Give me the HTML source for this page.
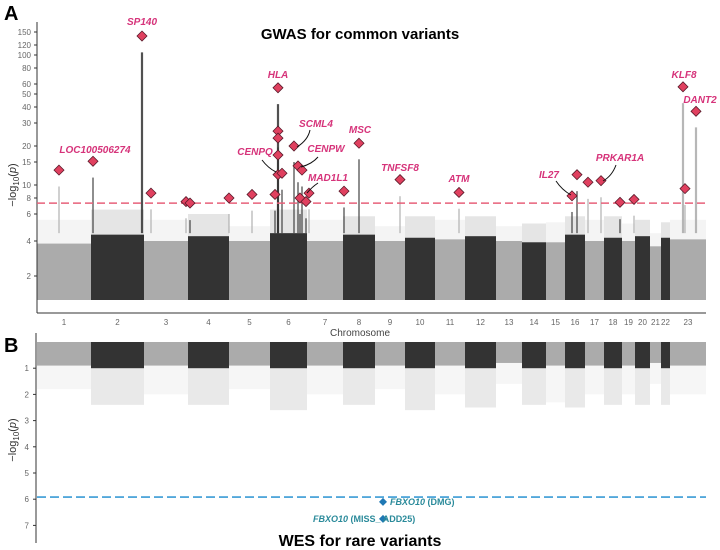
<!DOCTYPE html>
<html><head><meta charset="utf-8">
<style>
html,body{margin:0;padding:0;background:#fff;}
svg{display:block;font-family:"Liberation Sans",Arial,sans-serif;}
</style></head>
<body>
<svg id="chart" width="720" height="550" viewBox="0 0 720 550" xmlns="http://www.w3.org/2000/svg">
  <text x="4" y="20" font-size="20" font-weight="bold">A</text>
  <text x="360" y="39" font-size="15" font-weight="bold" text-anchor="middle">GWAS for common variants</text>
  <text transform="translate(16,185) rotate(-90)" font-size="11" fill="#333" text-anchor="middle">−log<tspan font-size="8" dy="3">10</tspan><tspan dy="-3">(</tspan><tspan font-style="italic">p</tspan>)</text>
  <text x="360" y="336" font-size="10" fill="#444" text-anchor="middle">Chromosome</text>
  <text x="4" y="352" font-size="20" font-weight="bold">B</text>
  <text transform="translate(16,440) rotate(-90)" font-size="11" fill="#333" text-anchor="middle">−log<tspan font-size="8" dy="3">10</tspan><tspan dy="-3">(</tspan><tspan font-style="italic">p</tspan>)</text>
  <text x="360" y="546" font-size="16" font-weight="bold" text-anchor="middle">WES for rare variants</text>
  <g id="gA"></g>
  <g id="gB"></g>
</svg>
<script>
// ---- data ----
const chromNames = ["1","2","3","4","5","6","7","8","9","10","11","12","13","14","15","16","17","18","19","20","21","22","23"];
const chromEdges = [0,54,107,151,192,233,270,306,338,368,398,428,459,485,509,528,548,567,585,598,613,624,633,669];
const gwasTop = [3.8,4.4,4.0,4.3,4.0,4.5,4.0,4.4,4.0,4.2,4.1,4.3,4.0,3.9,3.9,4.4,4.0,4.2,4.0,4.3,3.6,4.2,4.1];
const gwasScatterTop = [5.5,6.5,5.5,6.0,5.0,6.5,5.5,5.8,5.0,5.8,5.5,5.8,5.0,5.2,5.3,5.8,5.5,5.8,5.2,5.5,4.5,5.3,5.5];
const wesTop = [0.9,1.0,0.9,1.0,0.9,1.0,0.9,1.0,0.9,1.0,0.9,1.0,0.8,1.0,0.9,1.0,0.9,1.0,0.9,1.0,0.8,1.0,0.9];
const wesScatterTop = [1.8,2.4,2.0,2.4,1.8,2.6,2.0,2.4,1.8,2.6,2.0,2.5,1.6,2.4,2.3,2.5,2.0,2.4,2.0,2.4,1.6,2.4,2.0];
const hitPos = [22,56,105,114,149,153,192,215,238,241,241,241,241,241,245,257,261,265,263,269,272,307,322,363,422,535,540,551,564,583,597,646,648,659];
const hitVal = [13,15.2,140,8.7,7.5,7.3,8,8.5,8.5,56,26,23,17,12,12.3,20,14,13,8,7.5,8.7,9,21,11,8.8,8.3,12,10.5,10.8,7.4,7.8,57,9.4,37];
const gwasThreshold = 7.3;
const gwasTickVals = [2,4,6,8,10,15,20,30,40,50,60,80,100,120,150];
const wesTickVals = [1,2,3,4,5,6,7];
const wesThreshold = 5.92;
const wesHitPos = [346,346];
const wesHitVal = [6.1,6.75];
// ---- scales ----
const X0 = 37;
function x(u){ return X0 + u; }
const yKnotV = [1.3,2,4,6,8,10,15,20,30,40,50,60,80,100,120,150];
const yKnotP = [300,276,241,214,198,185,162,146,123,107,94,84,68,55,45,32];
function yA(v){
  const lv = Math.log(v);
  for(let i=0;i<yKnotV.length-1;i++){
    const a=Math.log(yKnotV[i]), b=Math.log(yKnotV[i+1]);
    if(lv<=b || i===yKnotV.length-2){
      return yKnotP[i] + (lv-a)/(b-a)*(yKnotP[i+1]-yKnotP[i]);
    }
  }
}
function yB(v){ return 342 + v*26.2; }
const NS="http://www.w3.org/2000/svg";
function mk(parent,tag,attrs){ const e=document.createElementNS(NS,tag); for(const k in attrs) e.setAttribute(k,attrs[k]); parent.appendChild(e); return e; }
const gA=document.getElementById('gA'), gB=document.getElementById('gB');
function chromColor(i){ return i%2===0 ? "#ababab" : "#333333"; }

// ---- Panel A ----
for(let i=0;i<chromNames.length;i++){
  const x1=x(chromEdges[i]), x2=x(chromEdges[i+1]);
  let r=mk(gA,'rect',{x:x1,y:yA(gwasScatterTop[i]),width:x2-x1,height:300-yA(gwasScatterTop[i]),fill:chromColor(i),opacity:0.13});
  
  
  r=mk(gA,'rect',{x:x1,y:yA(gwasTop[i]),width:x2-x1,height:300-yA(gwasTop[i]),fill:chromColor(i)});
  
  
  const t=mk(gA,'text',{x:(x1+x2)/2,y:325,'font-size':8,fill:'#666','text-anchor':'middle'});
  t.textContent=chromNames[i];
  
  
}
for(let i=0;i<hitPos.length;i++){
  let ci=0; while(ci<chromEdges.length-2 && hitPos[i]>=chromEdges[ci+1]) ci++;
  const w = hitVal[i]>30 ? 2.2 : 1.3;
  const l=mk(gA,'line',{x1:x(hitPos[i]),x2:x(hitPos[i]),y1:yA(hitVal[i]*0.75),y2:yA(4.5),stroke:chromColor(ci),'stroke-width':w,opacity:0.85});
  
  
}
let ax=mk(gA,'line',{x1:37,x2:37,y1:22,y2:313,stroke:'#333','stroke-width':1});
 
ax=mk(gA,'line',{x1:37,x2:706,y1:313,y2:313,stroke:'#333','stroke-width':1});
 
for(const v of gwasTickVals){
  const tk=mk(gA,'line',{x1:34,x2:37,y1:yA(v),y2:yA(v),stroke:'#333'});
   
  const t=mk(gA,'text',{x:31,y:yA(v)+3,'font-size':8,fill:'#666','text-anchor':'end'});
  t.textContent=v;
   
}
let th=mk(gA,'line',{x1:37,x2:706,y1:yA(gwasThreshold),y2:yA(gwasThreshold),stroke:'#e8607a','stroke-width':1.5,'stroke-dasharray':'8,4'});
 
for(let i=0;i<hitPos.length;i++){
  const cx=x(hitPos[i]), cy=yA(hitVal[i]);
  const d=mk(gA,'polygon',{points:`${cx},${cy-5} ${cx+5},${cy} ${cx},${cy+5} ${cx-5},${cy}`,fill:'#e0405f',stroke:'#5a1a2a','stroke-width':0.8});
  
  
}
const labs=[["SP140",142,25],["LOC100506274",95,153],["HLA",278,78],["SCML4",316,127],["CENPQ",255,155],["CENPW",326,152],["MAD1L1",328,181],["MSC",360,133],["TNFSF8",400,171],["ATM",459,182],["IL27",549,178],["PRKAR1A",620,161],["KLF8",684,78],["DANT2",700,103]];
for(const L of labs){
  const t=mk(gA,'text',{x:L[1],y:L[2],'font-size':10,'font-weight':'bold','font-style':'italic',fill:'#d6337a','text-anchor':'middle'});
  t.textContent=L[0];
  
  
}
const leaders=["M262,160 Q268,168 276,172","M310,130 Q308,140 297,147","M318,157 Q312,164 301,167","M318,183 Q312,187 307,193","M556,181 Q562,190 571,195","M616,165 Q612,176 603,181"];
for(const p of leaders){
  const l=mk(gA,'path',{d:p,fill:'none',stroke:'#111','stroke-width':1});
   
}

// ---- Panel B ----
for(let i=0;i<chromNames.length;i++){
  const x1=x(chromEdges[i]), x2=x(chromEdges[i+1]);
  let r=mk(gB,'rect',{x:x1,y:yB(0),width:x2-x1,height:yB(wesScatterTop[i])-yB(0),fill:chromColor(i),opacity:0.11});
  
  
  r=mk(gB,'rect',{x:x1,y:yB(0),width:x2-x1,height:yB(wesTop[i])-yB(0),fill:chromColor(i)});
  
  
}
ax=mk(gB,'line',{x1:36,x2:36,y1:333,y2:543,stroke:'#333'});
 
for(const v of wesTickVals){
  const tk=mk(gB,'line',{x1:33,x2:36,y1:yB(v),y2:yB(v),stroke:'#333'});
   
  const t=mk(gB,'text',{x:29,y:yB(v)+3,'font-size':8,fill:'#666','text-anchor':'end'});
  t.textContent=v;
   
}
th=mk(gB,'line',{x1:37,x2:706,y1:yB(wesThreshold),y2:yB(wesThreshold),stroke:'#3a9bd5','stroke-width':1.6,'stroke-dasharray':'9,4'});
 
for(let i=0;i<wesHitPos.length;i++){
  const cx=x(wesHitPos[i]), cy=yB(wesHitVal[i]);
  const d=mk(gB,'polygon',{points:`${cx},${cy-4} ${cx+4},${cy} ${cx},${cy+4} ${cx-4},${cy}`,fill:'#1f78b4'});
  
  
}
let t=mk(gB,'text',{x:390,y:yB(wesHitVal[0])+3,'font-size':9,'font-weight':'bold',fill:'#2a8a9a'});
t.innerHTML='<tspan font-style="italic">FBXO10</tspan> (DMG)';
 
t=mk(gB,'text',{x:313,y:yB(wesHitVal[1])+3,'font-size':9,'font-weight':'bold',fill:'#2a8a9a'});
t.innerHTML='<tspan font-style="italic">FBXO10</tspan> (MISS_ ADD25)';
 
</script>
</body></html>
